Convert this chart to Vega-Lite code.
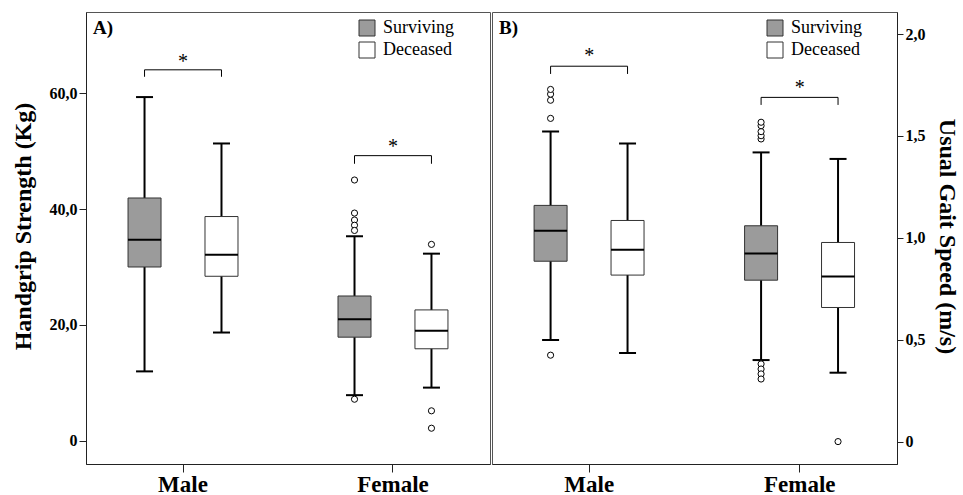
{
  "$schema": "https://vega.github.io/schema/vega-lite/v6.json",
  "background": "white",
  "padding": {"left": 10, "top": 11, "right": 0, "bottom": 0},
  "config": {
    "font": "Liberation Serif",
    "view": {"stroke": "#555", "strokeWidth": 1},
    "concat": {"spacing": 0},
    "axis": {"grid": false, "labelFont": "Liberation Serif", "titleFont": "Liberation Serif", "labelColor": "black", "titleColor": "black", "domainColor": "#222", "tickColor": "#222"},
    "legend": {"labelFont": "Liberation Serif"}
  },
  "datasets": {
    "boxes": [
      {"panel": "A", "sex": "Male", "status": "Surviving", "lo": 12.0, "q1": 30.0, "med": 34.7, "q3": 41.9, "hi": 59.3},
      {"panel": "A", "sex": "Male", "status": "Deceased", "lo": 18.7, "q1": 28.4, "med": 32.1, "q3": 38.7, "hi": 51.3},
      {"panel": "A", "sex": "Female", "status": "Surviving", "lo": 7.9, "q1": 17.9, "med": 21.0, "q3": 25.0, "hi": 35.3},
      {"panel": "A", "sex": "Female", "status": "Deceased", "lo": 9.2, "q1": 15.9, "med": 19.0, "q3": 22.6, "hi": 32.3},
      {"panel": "B", "sex": "Male", "status": "Surviving", "lo": 0.499, "q1": 0.885, "med": 1.034, "q3": 1.159, "hi": 1.521},
      {"panel": "B", "sex": "Male", "status": "Deceased", "lo": 0.435, "q1": 0.817, "med": 0.941, "q3": 1.085, "hi": 1.463},
      {"panel": "B", "sex": "Female", "status": "Surviving", "lo": 0.400, "q1": 0.792, "med": 0.923, "q3": 1.059, "hi": 1.419},
      {"panel": "B", "sex": "Female", "status": "Deceased", "lo": 0.338, "q1": 0.658, "med": 0.810, "q3": 0.977, "hi": 1.387}
    ],
    "outliers": [
      {"panel": "A", "sex": "Female", "status": "Surviving", "value": 45.0},
      {"panel": "A", "sex": "Female", "status": "Surviving", "value": 39.3},
      {"panel": "A", "sex": "Female", "status": "Surviving", "value": 38.1},
      {"panel": "A", "sex": "Female", "status": "Surviving", "value": 37.2},
      {"panel": "A", "sex": "Female", "status": "Surviving", "value": 36.3},
      {"panel": "A", "sex": "Female", "status": "Surviving", "value": 7.2},
      {"panel": "A", "sex": "Female", "status": "Deceased", "value": 33.9},
      {"panel": "A", "sex": "Female", "status": "Deceased", "value": 5.2},
      {"panel": "A", "sex": "Female", "status": "Deceased", "value": 2.2},
      {"panel": "B", "sex": "Male", "status": "Surviving", "value": 1.586},
      {"panel": "B", "sex": "Male", "status": "Surviving", "value": 1.675},
      {"panel": "B", "sex": "Male", "status": "Surviving", "value": 1.705},
      {"panel": "B", "sex": "Male", "status": "Surviving", "value": 1.728},
      {"panel": "B", "sex": "Male", "status": "Surviving", "value": 0.424},
      {"panel": "B", "sex": "Female", "status": "Surviving", "value": 1.485},
      {"panel": "B", "sex": "Female", "status": "Surviving", "value": 1.501},
      {"panel": "B", "sex": "Female", "status": "Surviving", "value": 1.521},
      {"panel": "B", "sex": "Female", "status": "Surviving", "value": 1.550},
      {"panel": "B", "sex": "Female", "status": "Surviving", "value": 1.567},
      {"panel": "B", "sex": "Female", "status": "Surviving", "value": 0.381},
      {"panel": "B", "sex": "Female", "status": "Surviving", "value": 0.356},
      {"panel": "B", "sex": "Female", "status": "Surviving", "value": 0.332},
      {"panel": "B", "sex": "Female", "status": "Surviving", "value": 0.307},
      {"panel": "B", "sex": "Female", "status": "Deceased", "value": 0.0}
    ],
    "brackets": [
      {"panel": "A", "sex": "Male", "status": "Surviving", "y": 62.8, "ord": 1},
      {"panel": "A", "sex": "Male", "status": "Surviving", "y": 64.0, "ord": 2},
      {"panel": "A", "sex": "Male", "status": "Deceased", "y": 64.0, "ord": 3},
      {"panel": "A", "sex": "Male", "status": "Deceased", "y": 62.8, "ord": 4},
      {"panel": "A", "sex": "Female", "status": "Surviving", "y": 47.8, "ord": 1},
      {"panel": "A", "sex": "Female", "status": "Surviving", "y": 49.2, "ord": 2},
      {"panel": "A", "sex": "Female", "status": "Deceased", "y": 49.2, "ord": 3},
      {"panel": "A", "sex": "Female", "status": "Deceased", "y": 47.8, "ord": 4},
      {"panel": "B", "sex": "Male", "status": "Surviving", "y": 1.804, "ord": 1},
      {"panel": "B", "sex": "Male", "status": "Surviving", "y": 1.842, "ord": 2},
      {"panel": "B", "sex": "Male", "status": "Deceased", "y": 1.842, "ord": 3},
      {"panel": "B", "sex": "Male", "status": "Deceased", "y": 1.804, "ord": 4},
      {"panel": "B", "sex": "Female", "status": "Surviving", "y": 1.652, "ord": 1},
      {"panel": "B", "sex": "Female", "status": "Surviving", "y": 1.689, "ord": 2},
      {"panel": "B", "sex": "Female", "status": "Deceased", "y": 1.689, "ord": 3},
      {"panel": "B", "sex": "Female", "status": "Deceased", "y": 1.652, "ord": 4}
    ],
    "stars": [
      {"panel": "A", "sex": "Male", "y": 65.9, "label": "*"},
      {"panel": "A", "sex": "Female", "y": 51.2, "label": "*"},
      {"panel": "B", "sex": "Male", "y": 1.907, "label": "*"},
      {"panel": "B", "sex": "Female", "y": 1.752, "label": "*"}
    ],
    "panels": [
      {"panel": "A", "label": "A)"},
      {"panel": "B", "label": "B)"}
    ]
  },
  "resolve": {"scale": {"y": "independent", "fill": "independent"}, "legend": {"fill": "independent"}},
  "hconcat": [
    {
      "width": 404,
      "height": 452,
      "encoding": {
        "x": {"field": "sex", "type": "nominal", "sort": ["Male", "Female"], "scale": {"paddingInner": 0.267, "paddingOuter": 0.0955},
              "axis": {"title": null, "labelAngle": 0, "labelFontSize": 23, "labelFontWeight": "bold", "tickSize": 8, "labelPadding": 1}}
      },
      "layer": [
        {
          "data": {"name": "boxes"},
          "transform": [{"filter": "datum.panel === 'A'"}],
          "mark": {"type": "rule", "color": "black", "strokeWidth": 2},
          "encoding": {
            "xOffset": {"field": "status", "type": "nominal", "sort": ["Surviving", "Deceased"], "scale": {"paddingInner": 0, "paddingOuter": 0}},
            "y": {"field": "lo", "type": "quantitative", "scale": {"domain": [-3.97, 73.97], "nice": false, "zero": false},
                  "axis": {"title": "Handgrip Strength (Kg)", "values": [0, 20, 40, 60], "labelExpr": "datum.value == 0 ? '0' : replace(format(datum.value, '.1f'), '.', ',')", "tickSize": 7, "labelFontSize": 16, "labelFontWeight": "bold", "labelPadding": 2, "titleFontSize": 24, "titleFontWeight": "bold", "titleX": -56, "titleY": 214, "titleBaseline": "alphabetic", "titleAngle": -90, "titleAlign": "center"}},
            "y2": {"field": "hi"}
          }
        },
        {
          "data": {"name": "boxes"},
          "transform": [{"filter": "datum.panel === 'A'"}],
          "mark": {"type": "bar", "width": 33, "stroke": "#333", "strokeWidth": 1, "opacity": 1},
          "encoding": {
            "xOffset": {"field": "status", "type": "nominal", "sort": ["Surviving", "Deceased"]},
            "y": {"field": "q1", "type": "quantitative"},
            "y2": {"field": "q3"},
            "fill": {"field": "status", "type": "nominal", "scale": {"domain": ["Surviving", "Deceased"], "range": ["#9b9b9b", "#ffffff"]},
                     "legend": {"title": null, "orient": "none", "legendX": 272, "legendY": 7, "symbolType": "square", "symbolSize": 256, "symbolStrokeColor": "#333", "symbolStrokeWidth": 1, "labelFontSize": 18, "labelFont": "Liberation Serif", "labelColor": "black", "labelOffset": 7, "rowPadding": 2, "padding": 0}}
          }
        },
        {
          "data": {"name": "boxes"},
          "transform": [{"filter": "datum.panel === 'A'"}],
          "mark": {"type": "tick", "color": "black", "size": 33, "thickness": 2, "opacity": 1},
          "encoding": {"xOffset": {"field": "status", "type": "nominal", "sort": ["Surviving", "Deceased"]}, "y": {"field": "med", "type": "quantitative"}}
        },
        {
          "data": {"name": "boxes"},
          "transform": [{"filter": "datum.panel === 'A'"}],
          "mark": {"type": "tick", "color": "black", "size": 17, "thickness": 2, "opacity": 1},
          "encoding": {"xOffset": {"field": "status", "type": "nominal", "sort": ["Surviving", "Deceased"]}, "y": {"field": "lo", "type": "quantitative"}}
        },
        {
          "data": {"name": "boxes"},
          "transform": [{"filter": "datum.panel === 'A'"}],
          "mark": {"type": "tick", "color": "black", "size": 17, "thickness": 2, "opacity": 1},
          "encoding": {"xOffset": {"field": "status", "type": "nominal", "sort": ["Surviving", "Deceased"]}, "y": {"field": "hi", "type": "quantitative"}}
        },
        {
          "data": {"name": "outliers"},
          "transform": [{"filter": "datum.panel === 'A'"}],
          "mark": {"type": "point", "shape": "circle", "filled": true, "fill": "white", "stroke": "black", "strokeWidth": 1, "size": 38, "opacity": 1},
          "encoding": {"xOffset": {"field": "status", "type": "nominal", "sort": ["Surviving", "Deceased"]}, "y": {"field": "value", "type": "quantitative"}}
        },
        {
          "data": {"name": "brackets"},
          "transform": [{"filter": "datum.panel === 'A'"}],
          "mark": {"type": "line", "color": "black", "strokeWidth": 1},
          "encoding": {"xOffset": {"field": "status", "type": "nominal", "sort": ["Surviving", "Deceased"]}, "y": {"field": "y", "type": "quantitative"}, "detail": {"field": "sex"}, "order": {"field": "ord"}}
        },
        {
          "data": {"name": "stars"},
          "transform": [{"filter": "datum.panel === 'A'"}],
          "mark": {"type": "text", "fontSize": 20, "font": "Liberation Serif", "color": "black", "baseline": "alphabetic", "dy": 9},
          "encoding": {"y": {"field": "y", "type": "quantitative"}, "text": {"field": "label"}}
        },
        {
          "data": {"name": "panels"},
          "transform": [{"filter": "datum.panel === 'A'"}],
          "mark": {"type": "text", "fontSize": 19, "fontWeight": "bold", "font": "Liberation Serif", "color": "black", "baseline": "alphabetic", "align": "left", "dx": -13},
          "encoding": {"x": {"datum": "Male", "bandPosition": 0}, "y": {"datum": 70.2}, "text": {"field": "label"}}
        }
      ]
    },
    {
      "width": 405,
      "height": 452,
      "encoding": {
        "x": {"field": "sex", "type": "nominal", "sort": ["Male", "Female"], "scale": {"paddingInner": 0.267, "paddingOuter": 0.0955},
              "axis": {"title": null, "labelAngle": 0, "labelFontSize": 23, "labelFontWeight": "bold", "tickSize": 8, "labelPadding": 1}}
      },
      "layer": [
        {
          "data": {"name": "boxes"},
          "transform": [{"filter": "datum.panel === 'B'"}],
          "mark": {"type": "rule", "color": "black", "strokeWidth": 2},
          "encoding": {
            "xOffset": {"field": "status", "type": "nominal", "sort": ["Surviving", "Deceased"], "scale": {"paddingInner": 0, "paddingOuter": 0}},
            "y": {"field": "lo", "type": "quantitative", "scale": {"domain": [-0.110, 2.108], "nice": false, "zero": false},
                  "axis": {"orient": "right", "title": "Usual Gait Speed (m/s)", "values": [0, 0.5, 1, 1.5, 2], "labelExpr": "datum.value == 0 ? '0' : replace(format(datum.value, '.1f'), '.', ',')", "tickSize": 6, "labelFontSize": 16, "labelFontWeight": "bold", "labelPadding": 2, "titleFontSize": 24, "titleFontWeight": "bold", "titleX": 42, "titleY": 224, "titleBaseline": "alphabetic", "titleAngle": 90, "titleAlign": "center"}},
            "y2": {"field": "hi"}
          }
        },
        {
          "data": {"name": "boxes"},
          "transform": [{"filter": "datum.panel === 'B'"}],
          "mark": {"type": "bar", "width": 33, "stroke": "#333", "strokeWidth": 1, "opacity": 1},
          "encoding": {
            "xOffset": {"field": "status", "type": "nominal", "sort": ["Surviving", "Deceased"]},
            "y": {"field": "q1", "type": "quantitative"},
            "y2": {"field": "q3"},
            "fill": {"field": "status", "type": "nominal", "scale": {"domain": ["Surviving", "Deceased"], "range": ["#9b9b9b", "#ffffff"]},
                     "legend": {"title": null, "orient": "none", "legendX": 274, "legendY": 7, "symbolType": "square", "symbolSize": 256, "symbolStrokeColor": "#333", "symbolStrokeWidth": 1, "labelFontSize": 18, "labelFont": "Liberation Serif", "labelColor": "black", "labelOffset": 7, "rowPadding": 2, "padding": 0}}
          }
        },
        {
          "data": {"name": "boxes"},
          "transform": [{"filter": "datum.panel === 'B'"}],
          "mark": {"type": "tick", "color": "black", "size": 33, "thickness": 2, "opacity": 1},
          "encoding": {"xOffset": {"field": "status", "type": "nominal", "sort": ["Surviving", "Deceased"]}, "y": {"field": "med", "type": "quantitative"}}
        },
        {
          "data": {"name": "boxes"},
          "transform": [{"filter": "datum.panel === 'B'"}],
          "mark": {"type": "tick", "color": "black", "size": 17, "thickness": 2, "opacity": 1},
          "encoding": {"xOffset": {"field": "status", "type": "nominal", "sort": ["Surviving", "Deceased"]}, "y": {"field": "lo", "type": "quantitative"}}
        },
        {
          "data": {"name": "boxes"},
          "transform": [{"filter": "datum.panel === 'B'"}],
          "mark": {"type": "tick", "color": "black", "size": 17, "thickness": 2, "opacity": 1},
          "encoding": {"xOffset": {"field": "status", "type": "nominal", "sort": ["Surviving", "Deceased"]}, "y": {"field": "hi", "type": "quantitative"}}
        },
        {
          "data": {"name": "outliers"},
          "transform": [{"filter": "datum.panel === 'B'"}],
          "mark": {"type": "point", "shape": "circle", "filled": true, "fill": "white", "stroke": "black", "strokeWidth": 1, "size": 38, "opacity": 1},
          "encoding": {"xOffset": {"field": "status", "type": "nominal", "sort": ["Surviving", "Deceased"]}, "y": {"field": "value", "type": "quantitative"}}
        },
        {
          "data": {"name": "brackets"},
          "transform": [{"filter": "datum.panel === 'B'"}],
          "mark": {"type": "line", "color": "black", "strokeWidth": 1},
          "encoding": {"xOffset": {"field": "status", "type": "nominal", "sort": ["Surviving", "Deceased"]}, "y": {"field": "y", "type": "quantitative"}, "detail": {"field": "sex"}, "order": {"field": "ord"}}
        },
        {
          "data": {"name": "stars"},
          "transform": [{"filter": "datum.panel === 'B'"}],
          "mark": {"type": "text", "fontSize": 20, "font": "Liberation Serif", "color": "black", "baseline": "alphabetic", "dy": 9},
          "encoding": {"y": {"field": "y", "type": "quantitative"}, "text": {"field": "label"}}
        },
        {
          "data": {"name": "panels"},
          "transform": [{"filter": "datum.panel === 'B'"}],
          "mark": {"type": "text", "fontSize": 19, "fontWeight": "bold", "font": "Liberation Serif", "color": "black", "baseline": "alphabetic", "align": "left", "dx": -13},
          "encoding": {"x": {"datum": "Male", "bandPosition": 0}, "y": {"datum": 2.0}, "text": {"field": "label"}}
        }
      ]
    }
  ]
}
